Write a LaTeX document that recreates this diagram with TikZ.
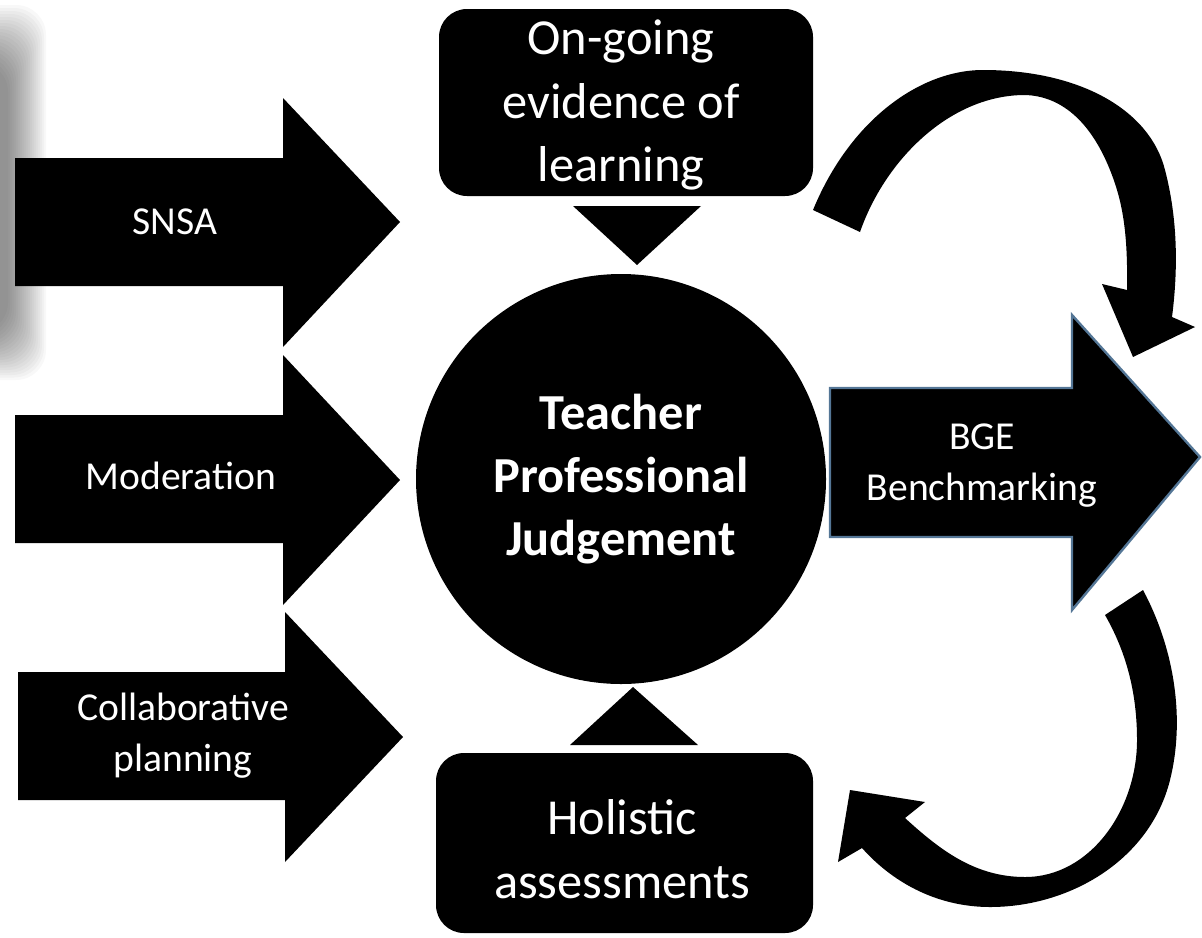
\documentclass[tikz,border=0pt]{standalone}
\usepackage{fontspec}
\setmainfont{Carlito}
\definecolor{steel}{RGB}{84,118,150}
\begin{document}
\begin{tikzpicture}[x=0.5pt,y=-0.5pt]
\useasboundingbox (0,0) rectangle (1202,937);
\tikzset{
  blk/.style={fill=black},
  bigtext/.style={text=white, align=center, font=\fontsize{25.2}{31.8}\selectfont},
  smalltext/.style={text=white, align=center, font=\fontsize{19.8}{25.5}\selectfont},
  roundbox/.style={fill=black, rounded corners=14pt, inner sep=0pt},
}
% blurred shadow at the left edge
\foreach \i in {0,...,19}
  \fill[black,opacity=0.028,rounded corners=15pt] (-40,{5+\i*3}) rectangle ({46-\i*2},{380-\i*2.5});

% left block arrows
\fill[blk] (15,158) -- (283,158) -- (283,98) -- (400,222) -- (283,347) -- (283,286) -- (15,286) -- cycle;
\fill[blk] (15,415) -- (283,415) -- (283,355) -- (400,480) -- (283,605) -- (283,543) -- (15,543) -- cycle;
\fill[blk] (18,672) -- (285,672) -- (285,612) -- (403,737) -- (285,862) -- (285,800) -- (18,800) -- cycle;
\node[smalltext] (snsa) at (175,222) {SNSA};
\node[smalltext] (mod) at (181,476) {Moderation};
\node[smalltext] (collab) at (183,736) {Collaborative\\planning};

% right block arrow
\filldraw[fill=black, draw=steel, line width=1.2pt, line join=miter]
  (830,388) -- (1072,388) -- (1072,315) -- (1200,457) -- (1072,610) -- (1072,537) -- (830,537) -- cycle;
\node[smalltext] (bge) at (982,466) {BGE\\Benchmarking};

% centre circle
\node[circle, fill=black, minimum size=205pt, inner sep=0pt, bigtext, font=\fontsize{25.2}{31.5}\selectfont\bfseries] (tpj) at (621,479) {Teacher\\Professional\\Judgement};

% top and bottom boxes
\node[roundbox, minimum width=187pt, minimum height=93.5pt] (ongoing) at (626,102.5) {};
\node[bigtext] (ongoingtext) at (621,105) {On-going\\evidence of\\learning};
\node[roundbox, minimum width=188.5pt, minimum height=90pt] (holistic) at (624.5,843) {};
\node[bigtext] (holistictext) at (622,849) {Holistic\\assessments};

% small triangles
\fill[blk] (573,206) -- (701,206) -- (637,265) -- cycle;
\fill[blk] (570,745) -- (698,745) -- (633,687) -- cycle;

% top curved arrow
\fill[blk] (813,210) .. controls (850,120) and (920,70) .. (983,70)
  .. controls (1080,70) and (1150,110) .. (1165,170)
  .. controls (1178,220) and (1178,270) .. (1172,317)
  -- (1195,327) -- (1133,357) -- (1102,284) -- (1127,290)
  .. controls (1128,230) and (1122,200) .. (1110,170)
  .. controls (1090,120) and (1060,96) .. (1025,95)
  .. controls (950,95) and (885,160) .. (860,232) -- cycle;

% bottom curved arrow
\fill[blk] (1143,590) .. controls (1175,650) and (1185,720) .. (1170,780)
  .. controls (1150,860) and (1070,907) .. (990,907)
  .. controls (940,907) and (895,885) .. (862,848)
  -- (838,862) -- (850,790) -- (925,802) -- (905,818)
  .. controls (940,850) and (975,877) .. (1025,877)
  .. controls (1090,877) and (1137,810) .. (1137,740)
  .. controls (1137,690) and (1125,650) .. (1105,615) -- cycle;
\end{tikzpicture}
\end{document}
